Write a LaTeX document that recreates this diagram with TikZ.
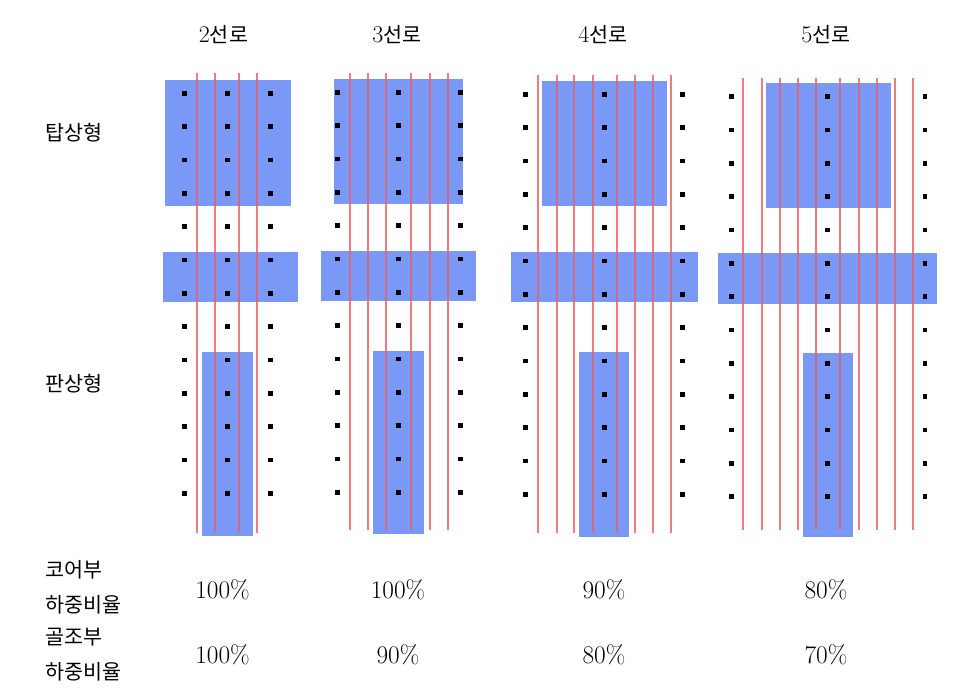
\documentclass[tikz,border=0pt]{standalone}
\usepackage{fontspec}
\newfontfamily\kr{Noto Sans CJK KR}
\definecolor{slab}{RGB}{122,152,245}
\definecolor{wall}{RGB}{236,92,100}
\tikzset{
  slabfill/.style={fill=slab},
  wallline/.style={draw=wall, line width=1.5pt, opacity=0.8},
  krtext/.style={font=\kr\fontsize{15.5}{18}\selectfont, inner sep=0pt},
  titletext/.style={font=\kr\fontsize{15.5}{18}\selectfont, inner sep=0pt},
  pcttext/.style={font=\fontsize{19}{22}\selectfont, inner sep=0pt},
}
\newcommand{\dg}[1]{{\rmfamily\fontsize{18}{20}\selectfont #1}}
\begin{document}
\begin{tikzpicture}[x=0.75pt,y=-0.75pt]
\useasboundingbox (0,0) rectangle (980,699);
\fill[white] (0,0) rectangle (980,699);

% ---------- column 1: 2 lines ----------
\fill[slabfill] (165,80) rectangle (290.7,205.7);
\fill[slabfill] (162.7,252.3) rectangle (297.7,302.3);
\fill[slabfill] (202.3,352.3) rectangle (252.7,535.7);
\foreach \x in {197.3,215,239.3,257.3} \draw[wallline] (\x,73) -- (\x,533);
\foreach \x in {184.3,227.3,270.7}
  \foreach \k in {0,...,12}
    \fill (\x-2.4,{93.3+33.33*\k-2.4}) rectangle ++(4.8,4.8);

% ---------- column 2: 3 lines ----------
\fill[slabfill] (334.3,79) rectangle (462.7,204.3);
\fill[slabfill] (320.7,250.7) rectangle (475.7,301);
\fill[slabfill] (372.7,351) rectangle (424.3,534.3);
\foreach \x in {350,367.7,386,411,430,448} \draw[wallline] (\x,73.3) -- (\x,530);
\foreach \x in {337.3,398.3,460.7}
  \foreach \k in {0,...,12}
    \fill (\x-2.4,{92.3+33.33*\k-2.4}) rectangle ++(4.8,4.8);

% ---------- column 3: 4 lines ----------
\fill[slabfill] (542,81) rectangle (666.7,205.7);
\fill[slabfill] (511,251.7) rectangle (698.3,301.7);
\fill[slabfill] (579,351.7) rectangle (629.3,536.7);
\foreach \x in {538.3,557.3,574.3,592.7,616.7,634.7,653,670.7} \draw[wallline] (\x,75) -- (\x,533);
\foreach \x in {525.7,604.3,682.7}
  \foreach \k in {0,...,12}
    \fill (\x-2.4,{94.3+33.33*\k-2.4}) rectangle ++(4.8,4.8);

% ---------- column 4: 5 lines ----------
\fill[slabfill] (765.7,83.3) rectangle (890.7,207.7);
\fill[slabfill] (718.3,253.3) rectangle (937.3,304);
\fill[slabfill] (802.7,352.7) rectangle (853.3,536.7);
\foreach \x in {743.3,761.7,780.3,798.3,816,840.3,859,876.7,895,912.7} \draw[wallline] (\x,78.3) -- (\x,530);
\foreach \x in {731.7,827.7,925}
  \foreach \k in {0,...,12}
    \fill (\x-2.4,{96.7+33.33*\k-2.4}) rectangle ++(4.8,4.8);

% ---------- titles ----------
\node[titletext] (t2) at (223.5,35) {\dg{2}선로};
\node[titletext] (t3) at (397,35) {\dg{3}선로};
\node[titletext] (t4) at (603,35) {\dg{4}선로};
\node[titletext] (t5) at (826,35) {\dg{5}선로};

% ---------- row labels ----------
\node[krtext, anchor=west] (tower) at (45,133) {탑상형};
\node[krtext, anchor=west] (plate) at (45,384) {판상형};
\node[krtext, anchor=west] (core1) at (45,570) {코어부};
\node[krtext, anchor=west] (core2) at (45,605) {하중비율};
\node[krtext, anchor=west] (frame1) at (45,637) {골조부};
\node[krtext, anchor=west] (frame2) at (45,672) {하중비율};

% ---------- percentages ----------
\node[pcttext] (c2) at (222.5,590) {100\%};
\node[pcttext] (c3) at (398,590) {100\%};
\node[pcttext] (c4) at (604,590) {90\%};
\node[pcttext] (c5) at (826,590) {80\%};
\node[pcttext] (f2) at (222.5,655) {100\%};
\node[pcttext] (f3) at (398,655) {90\%};
\node[pcttext] (f4) at (604,655) {80\%};
\node[pcttext] (f5) at (826,655) {70\%};
\end{tikzpicture}
\end{document}
